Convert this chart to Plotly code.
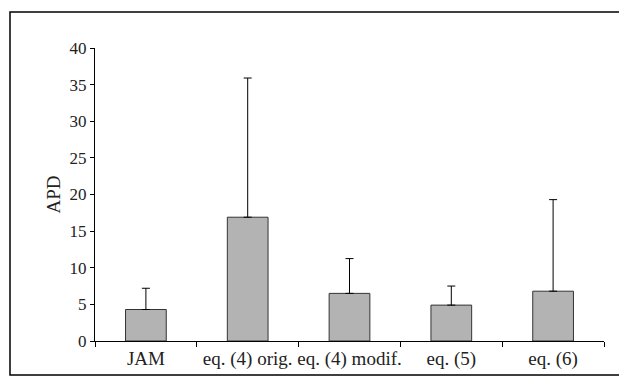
import plotly.graph_objects as go

categories = ["JAM", "eq. (4) orig.", "eq. (4) modif.", "eq. (5)", "eq. (6)"]
apd_mean = [4.3, 16.9, 6.5, 4.9, 6.8]
apd_upper = [7.2, 35.9, 11.25, 7.5, 19.3]
y_ticks = [0, 5, 10, 15, 20, 25, 30, 35, 40]

err_plus = [u - m for u, m in zip(apd_upper, apd_mean)]

font_family = "Liberation Serif, Times New Roman, serif"

fig = go.Figure(
    go.Bar(
        x=categories,
        y=apd_mean,
        marker=dict(color="#b3b3b3", line=dict(color="#333333", width=1)),
        error_y=dict(type="data", symmetric=False, array=err_plus,
                     arrayminus=[0] * len(err_plus),
                     color="black", thickness=1, width=4),
        width=0.4,
    )
)

# the page body adds an 8px margin, so the figure is sized 8px smaller
fig.update_layout(
    width=619, height=374,
    margin=dict(l=87, r=23, t=40, b=41),
    paper_bgcolor="white", plot_bgcolor="white",
    showlegend=False,
    font=dict(family=font_family, size=17, color="#222222"),
    xaxis=dict(
        showline=True, linecolor="black", linewidth=1,
        ticks="outside", tickson="boundaries", ticklen=5, tickcolor="black",
        showgrid=False, zeroline=False, tickfont=dict(size=19),
        tickangle=0,
    ),
    yaxis=dict(
        range=[0, 40], tickvals=y_ticks,
        showline=True, linecolor="black", linewidth=1,
        ticks="outside", ticklen=4, tickcolor="black",
        showgrid=False, zeroline=False,
        title=dict(text="APD", standoff=3, font=dict(size=19)),
        tickfont=dict(size=17),
    ),
    shapes=[dict(type="rect", xref="paper", yref="paper",
                 x0=-0.167, x1=1.033, y0=-0.116, y1=1.123,
                 line=dict(color="black", width=1.5))],
)

fig.write_html("out.html")
